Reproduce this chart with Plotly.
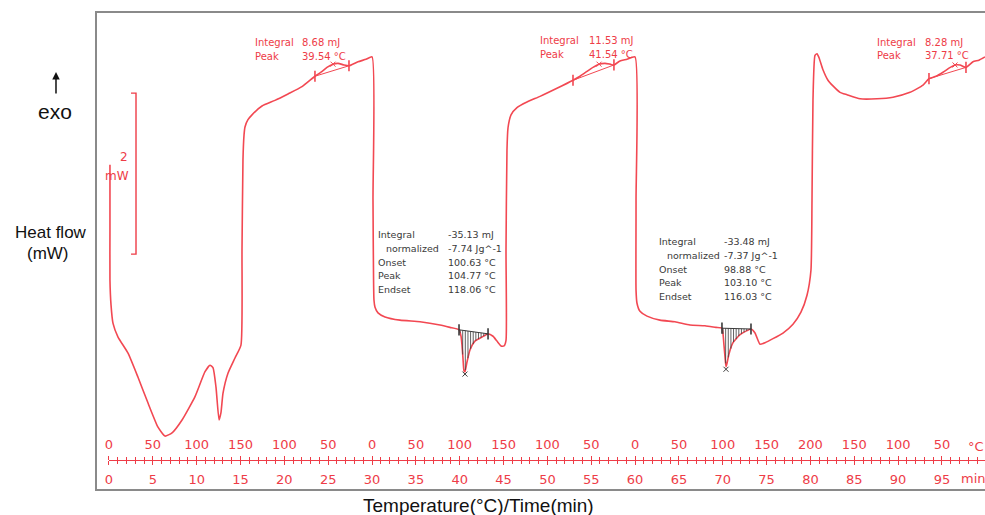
import numpy as np
import plotly.graph_objects as go

# ---- DSC run: heat flow (mW, exo up) against time (min) ----
time_min = [
    0.11, 0.11, 0.11, 0.23, 0.46, 1.03, 2.17, 3.31, 4.45, 5.59, 6.39, 7.19, 8.33,
    9.81, 10.95, 11.52, 11.86, 12.20, 12.55, 12.77, 13.00, 13.57, 14.37, 15.05,
    15.17, 15.28, 15.40, 15.51, 15.85, 16.31, 17.45, 18.93, 20.42, 22.01, 23.49,
    24.18, 24.86, 25.55, 26.12, 26.80, 27.37, 28.40, 29.31, 30.00,
    30.11, 30.22, 30.34, 30.68, 31.48, 33.19, 35.47, 37.75, 38.89, 39.92, 40.15,
    40.26, 40.37, 40.49, 40.60, 40.83, 41.17, 41.74, 42.54, 43.23, 43.80, 44.25,
    44.71, 45.05, 45.28, 45.28, 45.39, 45.51,
    45.85, 46.53, 47.67, 49.16, 51.09, 52.92, 53.72, 54.52, 55.20, 55.89, 56.57,
    57.14, 57.59, 58.28, 59.08, 59.99,
    60.11, 60.11, 60.22, 60.56, 61.36, 62.84, 64.55, 66.26, 67.97, 69.22, 69.91,
    70.03, 70.14, 70.26, 70.37, 70.48, 70.71, 71.17, 71.97, 72.76, 73.22, 73.68,
    74.02, 74.25, 74.82, 75.73, 76.87, 78.01, 78.92, 79.61, 80.06, 80.18, 80.29,
    80.52, 80.75, 80.98, 81.43, 82.00, 82.57, 83.37, 84.17, 85.66, 87.59, 89.42,
    91.36, 92.84, 93.52, 94.32, 95.12, 95.80, 96.49, 97.06, 97.74, 98.54, 99.22,
    99.91,
]
heat_flow_mw = [
    4.04, 3.23, 2.61, 2.30, 2.07, 1.90, 1.70, 1.40, 1.08, 0.78, 0.67, 0.71, 0.87,
    1.16, 1.47, 1.55, 1.52, 1.28, 0.87, 0.96, 1.20, 1.45, 1.64, 1.80,
    2.98, 4.10, 4.41, 4.51, 4.60, 4.66, 4.77, 4.84, 4.92, 5.01, 5.14,
    5.19, 5.25, 5.29, 5.30, 5.28, 5.27, 5.32, 5.35, 5.38,
    3.60, 2.36, 2.27, 2.20, 2.15, 2.11, 2.09, 2.05, 2.02, 1.99, 1.91,
    1.80, 1.64, 1.48, 1.47, 1.59, 1.74, 1.85, 1.90, 1.94, 1.91, 1.85,
    1.79, 1.79, 1.86, 2.98, 4.22, 4.50,
    4.66, 4.75, 4.82, 4.89, 4.99, 5.09, 5.14, 5.20, 5.25, 5.29, 5.30,
    5.29, 5.28, 5.33, 5.35, 5.38,
    3.60, 2.48, 2.32, 2.22, 2.16, 2.11, 2.09, 2.05, 2.04, 2.02, 2.01,
    1.94, 1.80, 1.65, 1.53, 1.57, 1.69, 1.83, 1.93, 1.98, 2.00, 1.95,
    1.86, 1.81, 1.83, 1.88, 1.95, 2.06, 2.21, 2.42, 2.73, 3.60, 4.84,
    5.40, 5.42, 5.37, 5.22, 5.09, 5.02, 4.94, 4.91, 4.86, 4.86, 4.88,
    4.94, 5.03, 5.11, 5.14, 5.19, 5.24, 5.28, 5.28, 5.25, 5.32, 5.34,
    5.38,
]

# ---- time axis and the programmed temperature at each labelled time ----
time_ticks = list(range(0, 100, 5))
temp_labels = ["0", "50", "100", "150", "100", "50", "0", "50", "100", "150",
               "100", "50", "0", "50", "100", "150", "200", "150", "100", "50"]

# ---- evaluated events: integration limits (min) and results ----
exo_limits = [(23.49, 27.37), (52.92, 57.59), (93.52, 97.74)]
exo_integral = ["8.68 mJ", "11.53 mJ", "8.28 mJ"]
exo_peak = ["39.54 °C", "41.54 °C", "37.71 °C"]

endo_limits = [(39.92, 43.23), (69.91, 73.22)]
endo_rows = ["Integral", "normalized", "Onset", "Peak", "Endset"]
endo_values = [
    ["-35.13 mJ", "-7.74 Jg^-1", "100.63 °C", "104.77 °C", "118.06 °C"],
    ["-33.48 mJ", "-7.37 Jg^-1", "98.88 °C", "103.10 °C", "116.03 °C"],
]

# scale bar height (mW)
scale_bar_mw = 2

RED = "#ee3c47"
CURVE = "#f24852"
DARK = "#3a3a3a"
FONT = "DejaVu Sans"

t_arr = np.array(time_min)
h_arr = np.array(heat_flow_mw)


def local(t0, t1):
    m = (t_arr >= t0 - 1e-9) & (t_arr <= t1 + 1e-9)
    return t_arr[m], h_arr[m]


def hf_at(t, t0, t1):
    tt, hh = local(t0 - 0.01, t1 + 0.01)
    return float(np.interp(t, tt, hh))


fig = go.Figure()

# main heat-flow curve
fig.add_trace(go.Scatter(x=time_min, y=heat_flow_mw, mode="lines",
                         line=dict(color=CURVE, width=1.6, shape="spline", smoothing=0.5),
                         hoverinfo="skip"))

# exothermic (crystallisation) peaks: baseline, limits, peak mark
for (t0, t1) in exo_limits:
    b0, b1 = hf_at(t0, t0, t1), hf_at(t1, t0, t1)
    fig.add_trace(go.Scatter(x=[t0, t1], y=[b0, b1], mode="lines+markers",
                             line=dict(color=CURVE, width=1),
                             marker=dict(symbol="line-ns", size=8,
                                         line=dict(color=CURVE, width=1.6)),
                             hoverinfo="skip"))
    tt, hh = local(t0, t1)
    base = np.interp(tt, [t0, t1], [b0, b1])
    k = int(np.argmax(hh - base))
    fig.add_trace(go.Scatter(x=[tt[k]], y=[hh[k]], mode="markers",
                             marker=dict(symbol="x-thin", size=5,
                                         line=dict(color=CURVE, width=1)),
                             hoverinfo="skip"))

# endothermic (melting) peaks: hatched area, baseline, limits, peak mark
for (t0, t1) in endo_limits:
    b0, b1 = hf_at(t0, t0, t1), hf_at(t1, t0, t1)
    tt, hh = local(t0, t1)
    ts = np.arange(t0 + 0.12, t1, 0.30)
    cs = np.interp(ts, tt, hh)
    bs = np.interp(ts, [t0, t1], [b0, b1])
    hx, hy = [], []
    for t, b, c in zip(ts, bs, cs):
        if c < b - 0.005:
            hx += [t, t, None]
            hy += [b, c, None]
    fig.add_trace(go.Scatter(x=hx, y=hy, mode="lines",
                             line=dict(color=DARK, width=0.8), hoverinfo="skip"))
    fig.add_trace(go.Scatter(x=[t0, t1], y=[b0, b1], mode="lines+markers",
                             line=dict(color=DARK, width=1),
                             marker=dict(symbol="line-ns", size=8,
                                         line=dict(color=DARK, width=1.6)),
                             hoverinfo="skip"))
    base = np.interp(tt, [t0, t1], [b0, b1])
    k = int(np.argmin(hh - base))
    fig.add_trace(go.Scatter(x=[tt[k]], y=[hh[k] - 0.03], mode="markers",
                             marker=dict(symbol="x-thin", size=5,
                                         line=dict(color=DARK, width=1)),
                             hoverinfo="skip"))

# 2 mW scale bar (on the top/temperature axis so that axis is drawn)
bar_top = 4.93
bar_bot = bar_top - scale_bar_mw
fig.add_trace(go.Scatter(x=[2.51, 3.08, 3.08, 2.51], y=[bar_top, bar_top, bar_bot, bar_bot],
                         mode="lines", line=dict(color=RED, width=1.4),
                         xaxis="x2", yaxis="y", hoverinfo="skip"))

annotations = []


def txt(x, y, s, size, color, xanchor="left", xref="x", yref="y", family=FONT):
    annotations.append(dict(x=x, y=y, xref=xref, yref=yref, text=s, showarrow=False,
                            xanchor=xanchor, yanchor="middle",
                            font=dict(family=family, size=size, color=color)))


# exotherm result labels
exo_label_pos = [(16.42, 21.78, 5.553), (48.93, 54.52, 5.578), (87.36, 92.84, 5.565)]
for (xl, xv, y), integ, pk in zip(exo_label_pos, exo_integral, exo_peak):
    txt(xl, y, "Integral", 10, RED)
    txt(xv, y, integ, 10, RED)
    txt(xl, y - 0.162, "Peak", 10, RED)
    txt(xv, y - 0.162, pk, 10, RED)

# endotherm result tables
endo_label_pos = [(30.45, 38.44, 3.168), (62.50, 69.91, 3.081)]
for (xl, xv, y0), vals in zip(endo_label_pos, endo_values):
    for i, (name, val) in enumerate(zip(endo_rows, vals)):
        y = y0 - i * 0.168
        txt(xl + (0.95 if name == "normalized" else 0), y, name, 9.5, DARK)
        txt(xv, y, val, 9.5, DARK)

# scale bar label
txt(1.71, 4.14, "2", 12, RED, xanchor="center")
txt(0.91, 3.90, "mW", 12, RED, xanchor="center")

# unit labels at the end of the axes
txt(98.9, 0.09, "°C", 13, RED, xanchor="center", yref="paper")
txt(98.6, 0.0251, "min", 13, RED, xanchor="center", yref="paper")

# axis titles
LS = "Liberation Sans"
txt(-0.0461, 0.7908, "exo", 21, "#111", xanchor="center", xref="paper", yref="paper", family=LS)
txt(-0.0506, 0.5377, "Heat flow", 17, "#111", xanchor="center", xref="paper", yref="paper", family=LS)
txt(-0.054, 0.4958, "(mW)", 17, "#111", xanchor="center", xref="paper", yref="paper", family=LS)
txt(0.4297, -0.0314, "Temperature(°C)/Time(min)", 19, "#111", xanchor="center",
    xref="paper", yref="paper", family=LS)
annotations.append(dict(x=-0.045, y=0.8745, xref="paper", yref="paper", text="",
                        showarrow=True, ax=0, ay=23, arrowhead=2, arrowsize=1,
                        arrowwidth=1.5, arrowcolor="#111"))

AX_POS = 0.0628
x_range = [0, 99.91]
x_domain = [0.01462, 1]
common = dict(range=x_range, domain=x_domain, anchor="free", position=AX_POS,
              tickmode="array", tickvals=time_ticks, ticks="outside", ticklen=4,
              tickcolor=RED, tickwidth=1, showline=True, linecolor=RED, linewidth=1,
              showgrid=False, zeroline=False,
              tickfont=dict(family=FONT, size=13, color=RED),
              minor=dict(tickmode="array", tickvals=list(range(0, 100)), ticks="outside",
                         ticklen=3, tickcolor=RED, tickwidth=1, showgrid=False))

fig.update_layout(
    width=985, height=515,
    margin=dict(l=96, r=0, t=12, b=25),
    paper_bgcolor="white", plot_bgcolor="white",
    showlegend=False,
    xaxis=dict(side="bottom", ticktext=[str(v) for v in time_ticks],
               ticklabelstandoff=3, **common),
    xaxis2=dict(side="top", overlaying="x", ticktext=temp_labels,
                ticklabelstandoff=2, **common),
    yaxis=dict(range=[0, 5.938], visible=False, fixedrange=True),
    annotations=annotations,
    shapes=[dict(type="rect", xref="paper", yref="paper", x0=0, x1=1.05, y0=0, y1=1,
                 line=dict(color="#8a8a8a", width=2), layer="below")],
)

fig.write_html("out.html")
